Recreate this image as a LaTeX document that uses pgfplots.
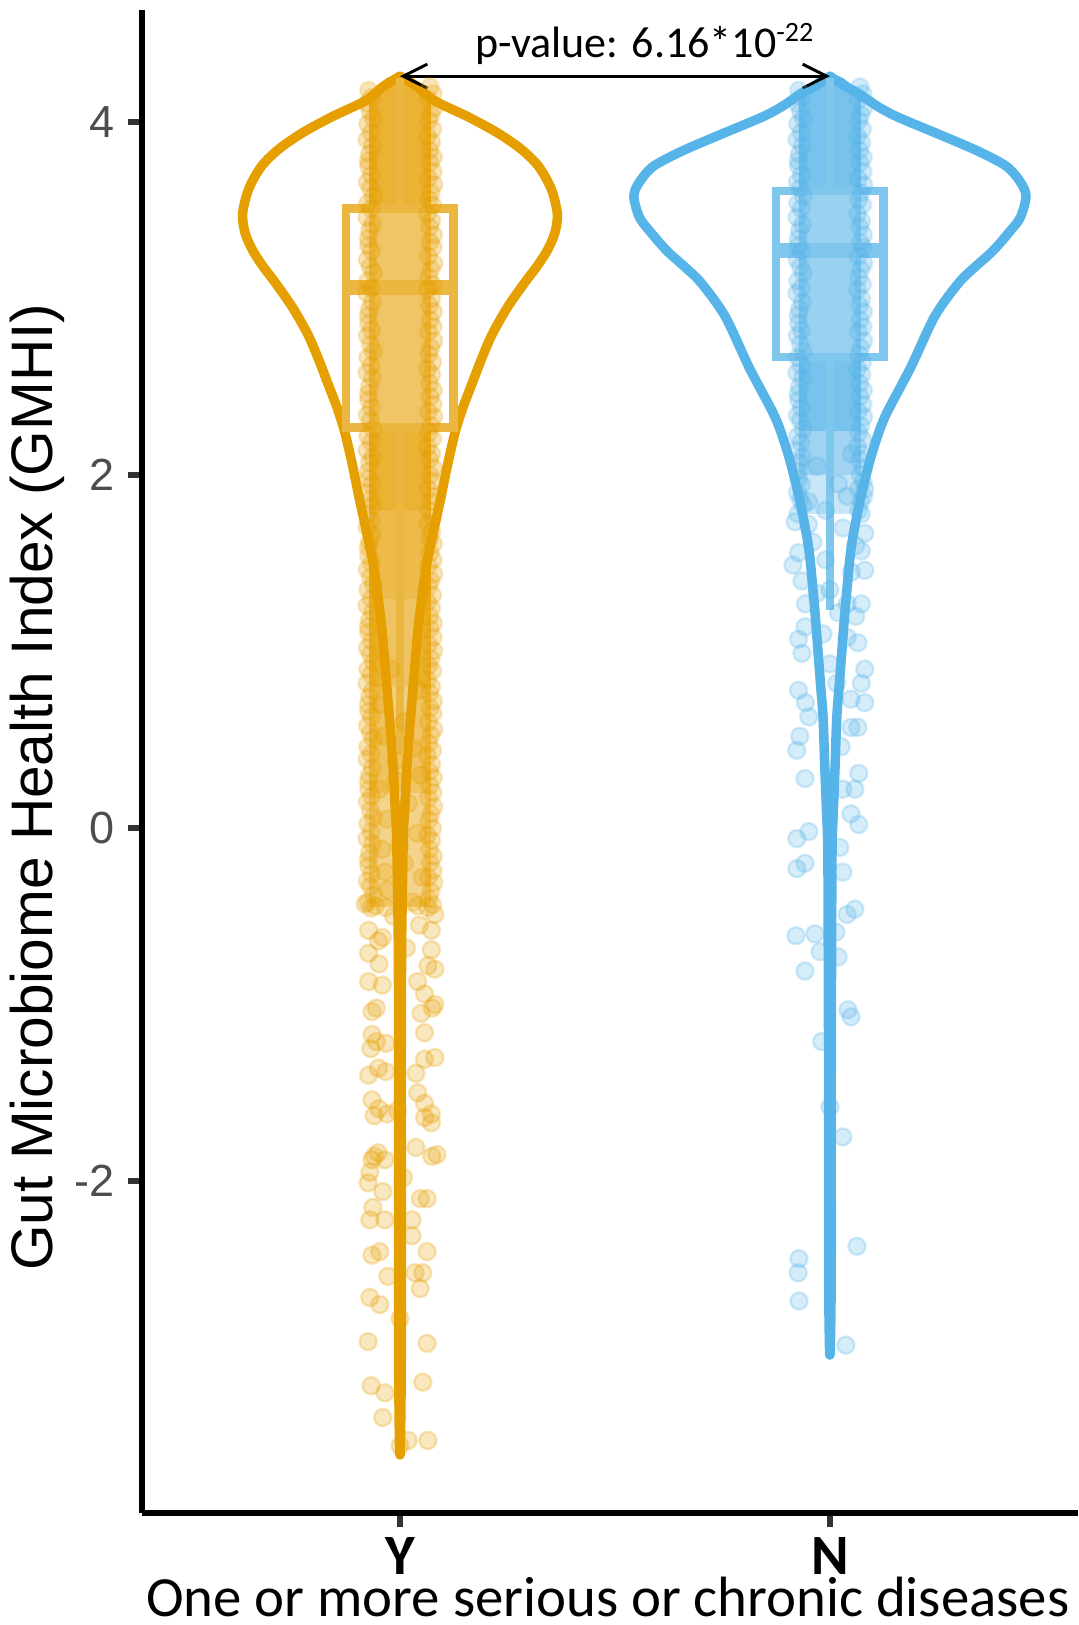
\documentclass[border=0pt]{standalone}
\usepackage{pgfplots}
\pgfplotsset{compat=1.18}
\usepackage{pgfplotstable}
\usepackage{fontspec}
\setmainfont{Carlito}
\newfontfamily\arial{Liberation Sans}
\usetikzlibrary{arrows.meta}
\definecolor{orC}{HTML}{E69F00}
\definecolor{blC}{HTML}{56B4E9}
\definecolor{tickgrey}{HTML}{4D4D4D}
\definecolor{tickc}{HTML}{333333}

% Y group: jittered points at the edges of the dense column
\pgfplotstableread{
v xL xR vR
4.18 0.927 1.070 4.20
4.14 0.934 1.077 4.16
4.105 0.924 1.066 4.125
4.06 0.931 1.079 4.08
4.02 0.938 1.072 4.04
3.99 0.925 1.067 4.01
3.94 0.933 1.076 3.96
3.90 0.923 1.064 3.92
3.865 0.936 1.074 3.885
3.82 0.929 1.069 3.84
3.78 0.926 1.078 3.80
3.75 0.927 1.070 3.77
3.70 0.934 1.077 3.72
3.66 0.924 1.066 3.68
3.625 0.931 1.079 3.645
3.58 0.938 1.072 3.60
3.54 0.925 1.067 3.56
3.51 0.933 1.076 3.53
3.46 0.923 1.064 3.48
3.42 0.936 1.074 3.44
3.385 0.929 1.069 3.405
3.34 0.926 1.078 3.36
3.30 0.927 1.070 3.32
3.27 0.934 1.077 3.29
3.22 0.924 1.066 3.24
3.18 0.931 1.079 3.20
3.145 0.938 1.072 3.165
3.10 0.925 1.067 3.12
3.06 0.933 1.076 3.08
3.03 0.923 1.064 3.05
2.98 0.936 1.074 3.00
2.94 0.929 1.069 2.96
2.905 0.926 1.078 2.925
2.86 0.927 1.070 2.88
2.82 0.934 1.077 2.84
2.79 0.924 1.066 2.81
2.74 0.931 1.079 2.76
2.70 0.938 1.072 2.72
2.665 0.925 1.067 2.685
2.62 0.933 1.076 2.64
2.58 0.923 1.064 2.60
2.55 0.936 1.074 2.57
2.50 0.929 1.069 2.52
2.46 0.926 1.078 2.48
2.425 0.927 1.070 2.445
2.38 0.934 1.077 2.40
2.34 0.924 1.066 2.36
2.31 0.931 1.079 2.33
2.26 0.938 1.072 2.28
2.22 0.925 1.067 2.24
2.185 0.933 1.076 2.205
2.14 0.923 1.064 2.16
2.10 0.936 1.074 2.12
2.07 0.929 1.069 2.09
2.02 0.926 1.078 2.04
1.98 0.927 1.070 2.00
1.945 0.934 1.077 1.965
1.90 0.924 1.066 1.92
1.86 0.931 1.079 1.88
1.83 0.938 1.072 1.85
1.78 0.925 1.067 1.80
1.74 0.933 1.076 1.76
1.705 0.923 1.064 1.725
1.66 0.936 1.074 1.68
1.62 0.929 1.069 1.64
1.59 0.926 1.078 1.61
1.54 0.927 1.070 1.56
1.50 0.934 1.077 1.52
1.465 0.924 1.066 1.485
1.42 0.931 1.079 1.44
1.38 0.938 1.072 1.40
1.35 0.925 1.067 1.37
1.30 0.933 1.076 1.32
1.26 0.923 1.064 1.28
1.225 0.936 1.074 1.245
1.18 0.929 1.069 1.20
1.14 0.926 1.078 1.16
1.11 0.927 1.070 1.13
1.06 0.934 1.077 1.08
1.02 0.924 1.066 1.04
0.985 0.931 1.079 1.005
0.94 0.938 1.072 0.96
0.90 0.925 1.067 0.92
0.87 0.933 1.076 0.89
0.82 0.923 1.064 0.84
0.78 0.936 1.074 0.80
0.745 0.929 1.069 0.765
0.70 0.926 1.078 0.72
0.66 0.927 1.070 0.68
0.63 0.934 1.077 0.65
0.58 0.924 1.066 0.60
0.54 0.931 1.079 0.56
0.505 0.938 1.072 0.525
0.46 0.925 1.067 0.48
0.42 0.933 1.076 0.44
0.39 0.923 1.064 0.41
0.34 0.936 1.074 0.36
0.30 0.929 1.069 0.32
0.265 0.926 1.078 0.285
0.22 0.927 1.070 0.24
0.18 0.934 1.077 0.20
0.15 0.924 1.066 0.17
0.10 0.931 1.079 0.12
0.06 0.938 1.072 0.08
0.025 0.925 1.067 0.045
-0.02 0.933 1.076 0.00
-0.06 0.923 1.064 -0.04
-0.09 0.936 1.074 -0.07
-0.14 0.929 1.069 -0.12
-0.18 0.926 1.078 -0.16
-0.215 0.927 1.070 -0.195
-0.26 0.934 1.077 -0.24
-0.30 0.924 1.066 -0.28
-0.33 0.931 1.079 -0.31
-0.38 0.938 1.072 -0.36
-0.42 0.925 1.067 -0.40
-0.455 0.933 1.076 -0.435
}\yedge

% Y group: interior points of the lower dense part
\pgfplotstableread{
x y
0.962 0.52
1.031 0.45
0.990 0.38
1.048 0.30
0.952 0.22
1.020 0.14
0.970 0.05
1.040 -0.03
0.958 -0.12
1.010 -0.20
1.052 -0.28
0.972 -0.35
1.030 -0.42
0.985 -0.50
1.045 -0.55
0.950 -0.64
1.015 -0.68
0.990 0.27
1.000 -0.10
0.965 -0.25
1.010 0.60
0.955 0.70
1.045 0.78
0.980 0.90
}\yinner

% Y group: sparse points in the lower tail
\pgfplotstableread{
x y
0.919 -0.43
0.943 -0.44
0.967 -0.45
1.041 -0.44
1.065 -0.45
1.081 -0.49
0.927 -0.58
1.073 -0.58
0.959 -0.62
0.927 -0.71
1.073 -0.69
0.951 -0.77
1.065 -0.78
1.081 -0.80
0.927 -0.87
0.959 -0.89
1.041 -0.87
1.057 -0.94
1.081 -1.00
1.075 -1.02
0.935 -1.04
0.945 -1.02
1.049 -1.05
0.935 -1.17
0.945 -1.21
0.932 -1.25
1.057 -1.16
0.967 -1.22
1.081 -1.30
1.057 -1.31
0.950 -1.36
0.967 -1.38
0.927 -1.40
1.037 -1.39
0.935 -1.54
0.951 -1.59
0.940 -1.63
1.041 -1.50
1.057 -1.56
1.073 -1.62
0.970 -1.62
0.994 -1.60
1.057 -1.64
1.073 -1.67
0.940 -1.86
0.949 -1.84
0.935 -1.88
1.037 -1.81
1.086 -1.85
1.074 -1.86
0.965 -1.88
0.930 -1.95
0.926 -2.01
1.008 -1.98
0.960 -2.06
1.047 -2.10
1.063 -2.10
0.937 -2.15
0.930 -2.22
0.965 -2.22
1.028 -2.22
1.028 -2.31
0.935 -2.42
0.953 -2.40
1.063 -2.40
0.972 -2.54
1.035 -2.52
1.053 -2.52
1.047 -2.61
0.930 -2.66
0.953 -2.70
1.000 -2.78
0.926 -2.91
1.063 -2.92
0.933 -3.16
0.965 -3.20
1.053 -3.14
0.960 -3.34
1.000 -3.50
1.019 -3.47
1.065 -3.47
}\ysparse

% N group: jittered points at the edges of the dense column
\pgfplotstableread{
v xL xR vR
4.18 1.927 2.070 4.20
4.14 1.934 2.077 4.16
4.105 1.924 2.066 4.125
4.06 1.931 2.079 4.08
4.02 1.938 2.072 4.04
3.99 1.925 2.067 4.01
3.94 1.933 2.076 3.96
3.90 1.923 2.064 3.92
3.865 1.936 2.074 3.885
3.82 1.929 2.069 3.84
3.78 1.926 2.078 3.80
3.75 1.927 2.070 3.77
3.70 1.934 2.077 3.72
3.66 1.924 2.066 3.68
3.625 1.931 2.079 3.645
3.58 1.938 2.072 3.60
3.54 1.925 2.067 3.56
3.51 1.933 2.076 3.53
3.46 1.923 2.064 3.48
3.42 1.936 2.074 3.44
3.385 1.929 2.069 3.405
3.34 1.926 2.078 3.36
3.30 1.927 2.070 3.32
3.27 1.934 2.077 3.29
3.22 1.924 2.066 3.24
3.18 1.931 2.079 3.20
3.145 1.938 2.072 3.165
3.10 1.925 2.067 3.12
3.06 1.933 2.076 3.08
3.03 1.923 2.064 3.05
2.98 1.936 2.074 3.00
2.94 1.929 2.069 2.96
2.905 1.926 2.078 2.925
2.86 1.927 2.070 2.88
2.82 1.934 2.077 2.84
2.79 1.924 2.066 2.81
2.74 1.931 2.079 2.76
2.70 1.938 2.072 2.72
2.665 1.925 2.067 2.685
2.62 1.933 2.076 2.64
2.58 1.923 2.064 2.60
2.55 1.936 2.074 2.57
2.50 1.929 2.069 2.52
2.46 1.926 2.078 2.48
2.425 1.927 2.070 2.445
2.38 1.934 2.077 2.40
2.34 1.924 2.066 2.36
2.31 1.931 2.079 2.33
2.26 1.938 2.072 2.28
2.22 1.925 2.067 2.24
2.185 1.933 2.076 2.205
2.14 1.923 2.064 2.16
2.10 1.936 2.074 2.12
2.07 1.929 2.069 2.09
2.02 1.926 2.078 2.04
1.98 1.927 2.070 2.00
1.945 1.934 2.077 1.965
1.90 1.924 2.066 1.92
1.86 1.931 2.079 1.88
1.83 1.938 2.072 1.85
1.78 1.925 2.067 1.80
}\nedge

% N group: individual points below the dense part
\pgfplotstableread{
x y
1.950 1.85
2.020 1.95
1.970 2.05
2.050 2.12
1.990 1.80
2.040 1.88
1.960 1.62
2.030 1.70
1.990 1.52
2.050 1.45
1.970 1.33
2.020 1.22
1.950 1.72
2.060 1.60
1.919 1.735
1.914 1.49
1.927 1.56
1.935 1.40
1.943 1.27
1.927 1.07
1.935 0.99
1.927 0.78
1.943 0.71
1.930 0.52
2.081 1.92
2.073 1.78
2.081 1.67
2.073 1.57
2.081 1.46
2.073 1.27
2.060 1.20
2.065 1.05
2.081 0.90
2.073 0.82
2.081 0.71
2.065 0.57
1.984 1.10
2.000 0.93
2.016 0.82
2.000 1.35
2.040 1.08
1.942 1.14
2.040 1.27
1.951 0.63
2.049 0.73
2.049 0.57
1.923 0.44
2.026 0.46
2.067 0.31
1.942 0.28
2.030 0.22
2.058 0.22
2.049 0.08
2.067 0.02
1.923 -0.06
1.951 -0.02
2.023 -0.11
1.923 -0.23
1.942 -0.20
2.030 -0.25
2.058 -0.46
2.040 -0.49
1.921 -0.61
1.965 -0.60
2.014 -0.59
1.942 -0.81
1.977 -0.70
2.019 -0.73
2.042 -1.03
2.049 -1.07
1.981 -1.21
2.000 -1.58
2.030 -1.75
2.063 -2.37
1.928 -2.44
1.926 -2.52
1.928 -2.68
2.037 -2.93
}\nsparse

\pgfplotsset{
  ptsY/.style={only marks, mark=*, mark size=4.3pt,
    mark options={fill=orC, draw=orC, fill opacity=0.25, draw opacity=0.25, line width=1.2pt}},
  ptsN/.style={only marks, mark=*, mark size=4.3pt,
    mark options={fill=blC, draw=blC, fill opacity=0.25, draw opacity=0.25, line width=1.2pt}},
  edgeY/.style={only marks, mark=*, mark size=4.3pt,
    mark options={fill=orC, draw=orC, fill opacity=0.28, draw opacity=0.18, line width=1.2pt}},
  edgeN/.style={only marks, mark=*, mark size=4.3pt,
    mark options={fill=blC, draw=blC, fill opacity=0.28, draw opacity=0.18, line width=1.2pt}},
}

\begin{document}
\begin{tikzpicture}
\useasboundingbox (-71pt,-56pt) rectangle (468pt,756.5pt);
\begin{axis}[
  at={(0,0)}, anchor=south west, scale only axis,
  width=468pt, height=751.5pt,
  xmin=0.4, xmax=2.577, ymin=-3.881, ymax=4.635,
  axis x line*=bottom, axis y line*=left,
  axis line style={line width=2.6pt, black},
  xtick={1,2}, xticklabels={Y,N},
  ytick={-2,0,2,4}, yticklabels={-2,0,2,4},
  tick align=outside, major tick length=7pt,
  tick style={line width=2.6pt, color=tickc},
  yticklabel style={font=\arial\fontsize{22.5}{22.5}\selectfont, text=tickgrey, inner sep=0pt, xshift=-6.5pt},
  xticklabel style={font=\fontsize{28.5}{28.5}\selectfont\bfseries, text=black, inner sep=0pt, yshift=-5pt},
  clip=false,
]
% ---- Y: dense jittered points (density layers) ----
\addplot[draw=none, fill=orC, fill opacity=0.45] coordinates {(0.928,-0.45) (1.072,-0.45) (1.072,4.10) (0.928,4.10)};
\addplot[draw=none, fill=orC, fill opacity=0.30] coordinates {(0.928,0.20) (1.072,0.20) (1.072,4.10) (0.928,4.10)};
\addplot[draw=none, fill=orC, fill opacity=0.40] coordinates {(0.928,0.80) (1.072,0.80) (1.072,4.10) (0.928,4.10)};
\addplot[draw=none, fill=orC, fill opacity=0.50] coordinates {(0.928,1.30) (1.072,1.30) (1.072,4.10) (0.928,4.10)};
\addplot[draw=none, fill=orC] coordinates {(0.928,1.80) (1.072,1.80) (1.072,4.12) (1.057,4.20) (1.03,4.25) (1.0,4.28) (0.97,4.25) (0.945,4.20) (0.928,4.12)};
\addplot[edgeY] table[x=xL,y=v] {\yedge};
\addplot[edgeY] table[x=xR,y=vR] {\yedge};
\addplot[ptsY] table[x=x,y=y] {\yinner};
\addplot[ptsY] table[x=x,y=y] {\ysparse};
% ---- N: dense jittered points (density layers) ----
\addplot[draw=none, fill=blC, fill opacity=0.40] coordinates {(1.928,1.78) (2.072,1.78) (2.072,4.10) (1.928,4.10)};
\addplot[draw=none, fill=blC, fill opacity=0.50] coordinates {(1.928,2.00) (2.072,2.00) (2.072,4.10) (1.928,4.10)};
\addplot[draw=none, fill=blC] coordinates {(1.928,2.25) (2.072,2.25) (2.072,4.12) (2.057,4.20) (2.03,4.25) (2.0,4.28) (1.97,4.25) (1.945,4.20) (1.928,4.12)};
\addplot[edgeN] table[x=xL,y=v] {\nedge};
\addplot[edgeN] table[x=xR,y=vR] {\nedge};
\addplot[ptsN] table[x=x,y=y] {\nsparse};
% ---- violins ----
\addplot[smooth, draw=orC, line width=4.75pt, fill=white, fill opacity=0.2, line join=round, line cap=round] coordinates {
(1,4.26) (1.040,4.20) (1.081,4.12) (1.158,4.03) (1.226,3.94) (1.280,3.85) (1.322,3.75) (1.352,3.62) (1.366,3.48) (1.360,3.37) (1.342,3.27) (1.318,3.18) (1.290,3.09) (1.250,2.95) (1.215,2.80) (1.190,2.66) (1.168,2.52) (1.146,2.38) (1.128,2.24) (1.110,2.05) (1.094,1.86) (1.077,1.67) (1.061,1.48) (1.050,1.29) (1.041,1.10) (1.034,0.90) (1.028,0.725) (1.022,0.55) (1.016,0.35) (1.012,0.15) (1.008,-0.03) (1.006,-0.30) (1.004,-0.63) (1.003,-1.2) (1.003,-2.0) (1.003,-3.0) (1.001,-3.50)
(0.999,-3.50) (0.997,-3.0) (0.997,-2.0) (0.997,-1.2) (0.996,-0.63) (0.994,-0.30) (0.992,-0.03) (0.988,0.15) (0.984,0.35) (0.978,0.55) (0.972,0.725) (0.966,0.90) (0.959,1.10) (0.950,1.29) (0.939,1.48) (0.923,1.67) (0.906,1.86) (0.890,2.05) (0.872,2.24) (0.854,2.38) (0.832,2.52) (0.810,2.66) (0.785,2.80) (0.750,2.95) (0.710,3.09) (0.682,3.18) (0.658,3.27) (0.640,3.37) (0.634,3.48) (0.648,3.62) (0.678,3.75) (0.720,3.85) (0.774,3.94) (0.842,4.03) (0.919,4.12) (0.960,4.20) (1,4.26)};
\addplot[smooth, draw=blC, line width=4.75pt, fill=white, fill opacity=0.2, line join=round, line cap=round] coordinates {
(2,4.26) (2.030,4.21) (2.068,4.16) (2.110,4.09) (2.156,4.03) (2.244,3.94) (2.340,3.84) (2.410,3.75) (2.443,3.66) (2.456,3.58) (2.443,3.46) (2.415,3.37) (2.379,3.27) (2.338,3.18) (2.300,3.09) (2.244,2.90) (2.188,2.61) (2.128,2.33) (2.100,2.14) (2.080,1.96) (2.062,1.76) (2.049,1.58) (2.041,1.39) (2.034,1.20) (2.028,1.01) (2.022,0.82) (2.016,0.63) (2.012,0.35) (2.008,0.10) (2.005,-0.11) (2.004,-0.6) (2.003,-1.5) (2.003,-2.5) (2.001,-2.94)
(1.999,-2.94) (1.997,-2.5) (1.997,-1.5) (1.996,-0.6) (1.995,-0.11) (1.992,0.10) (1.988,0.35) (1.984,0.63) (1.978,0.82) (1.972,1.01) (1.966,1.20) (1.959,1.39) (1.951,1.58) (1.938,1.76) (1.920,1.96) (1.900,2.14) (1.872,2.33) (1.812,2.61) (1.756,2.90) (1.700,3.09) (1.662,3.18) (1.621,3.27) (1.585,3.37) (1.557,3.46) (1.544,3.58) (1.557,3.66) (1.590,3.75) (1.660,3.84) (1.756,3.94) (1.844,4.03) (1.890,4.09) (1.932,4.16) (1.970,4.21) (2,4.26)};
% ---- boxplots ----
\addplot[draw=orC!75!white, line width=4.4pt] coordinates {(1,3.51) (1,4.25)};
\addplot[draw=orC!75!white, line width=4.4pt] coordinates {(1,2.27) (1,0.42)};
\addplot[draw=orC!75!white, fill=white, fill opacity=0.25, line width=4.25pt] coordinates {(0.875,2.27) (1.125,2.27) (1.125,3.51) (0.875,3.51)} --cycle;
\addplot[draw=orC!75!white, line width=7.5pt] coordinates {(0.875,3.06) (1.125,3.06)};
\addplot[draw=blC!75!white, line width=4.4pt] coordinates {(2,3.61) (2,4.25)};
\addplot[draw=blC!75!white, line width=4.4pt] coordinates {(2,2.67) (2,1.235)};
\addplot[draw=blC!75!white, fill=white, fill opacity=0.25, line width=4.25pt] coordinates {(1.875,2.67) (2.125,2.67) (2.125,3.61) (1.875,3.61)} --cycle;
\addplot[draw=blC!75!white, line width=7.5pt] coordinates {(1.875,3.27) (2.125,3.27)};
% ---- annotation ----
\draw[line width=1.5pt, {Straight Barb[length=12pt,width=12pt,line width=1.5pt]}-{Straight Barb[length=12pt,width=12pt,line width=1.5pt]}] (axis cs:1,4.26) -- (axis cs:2,4.26);
\node[anchor=base west, inner sep=0pt, font=\fontsize{22}{22}\selectfont] at (axis cs:1.174,4.363) {p-value: 6.16*10\raisebox{8pt}{\fontsize{14}{14}\selectfont -22}};
\node[anchor=base, inner sep=0pt, font=\fontsize{28.4}{28.4}\selectfont] at (axis cs:1.4837,-4.470) {One or more serious or chronic diseases};
\node[anchor=base, rotate=90, inner sep=0pt, font=\arial\fontsize{29.3}{29.3}\selectfont] at (axis cs:0.1907,0.232) {Gut Microbiome Health Index (GMHI)};
\end{axis}
\end{tikzpicture}
\end{document}
